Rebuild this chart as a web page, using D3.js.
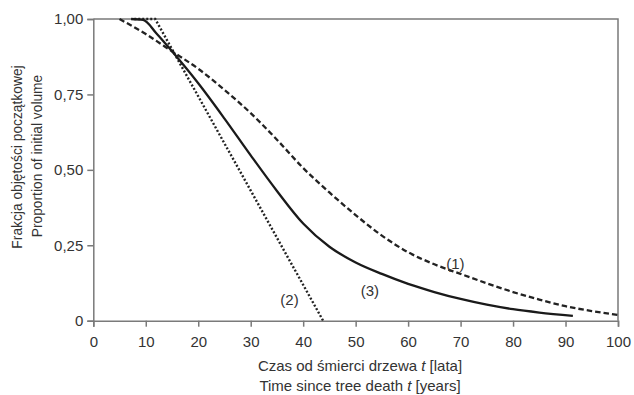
<!DOCTYPE html>
<html>
<head>
<meta charset="utf-8">
<script src="https://cdn.jsdelivr.net/npm/d3@7"></script>
<style>
  body { margin: 0; background: #fff; }
  svg { font-family: "Liberation Sans", Arial, sans-serif; }
</style>
</head>
<body>
<svg id="chart" width="634" height="395"></svg>
<script>
// values
const curve1 = [ // dashed (1)
  [5, 1.0], [10, 0.95], [15, 0.893], [20, 0.835], [25, 0.765], [30, 0.688],
  [35, 0.6], [40, 0.506], [45, 0.425], [50, 0.35], [55, 0.282], [60, 0.227],
  [65, 0.187], [70, 0.155], [75, 0.124], [80, 0.095], [85, 0.07], [90, 0.048],
  [95, 0.032], [100, 0.019]
]
const curve2 = [ // dotted (2)
  [7.8, 1.0], [11.8, 1.0], [43.8, 0]
]
const curve3 = [ // solid (3)
  [7.2, 1.0], [9.5, 0.997], [12, 0.953], [15, 0.893], [20, 0.787], [25, 0.67],
  [30, 0.548], [35, 0.43], [40, 0.322], [45, 0.245], [50, 0.193], [55, 0.155],
  [60, 0.122], [65, 0.095], [70, 0.072], [75, 0.053], [80, 0.038], [85, 0.027],
  [91.4, 0.016]
]
const xTicks = [0, 10, 20, 30, 40, 50, 60, 70, 80, 90, 100]
const yTicks = [0, 0.25, 0.5, 0.75, 1]
const yTickLabels = ['0', '0,25', '0,50', '0,75', '1,00']
const curveLabels = [
  { text: '(1)', t: 69, v: 0.188 },
  { text: '(2)', t: 37.4, v: 0.071 },
  { text: '(3)', t: 52.7, v: 0.099 }
]

const svg = d3.select('#chart')
const plotLeft = 93.3, plotRight = 618, plotTop = 19, plotBottom = 320.7
const axisColor = '#7a7a7a'
const textColor = '#333'
const fontSize = 15
const x = d3.scaleLinear().domain([0, 100]).range([plotLeft, plotRight])
const y = d3.scaleLinear().domain([0, 1]).range([plotBottom, plotTop])

// frame top and right
svg.append('path')
  .attr('d', `M${plotLeft},${plotTop} H${plotRight} V${plotBottom}`)
  .attr('fill', 'none')
  .attr('stroke', axisColor)
  .attr('stroke-width', 1.5)

const xAxis = svg.append('g')
  .attr('transform', `translate(0,${plotBottom})`)
  .call(d3.axisBottom(x).tickValues(xTicks).tickSize(6).tickPadding(5).tickFormat(d3.format('d')))
const yAxis = svg.append('g')
  .attr('transform', `translate(${plotLeft},0)`)
  .call(d3.axisLeft(y).tickValues(yTicks).tickSize(6).tickPadding(4)
    .tickFormat((d, i) => yTickLabels[i]))

for (const ax of [xAxis, yAxis]) {
  ax.select('.domain').attr('stroke', axisColor).attr('stroke-width', 1.5)
  ax.selectAll('.tick line').attr('stroke', axisColor).attr('stroke-width', 1.5)
  ax.selectAll('.tick text').attr('fill', textColor).attr('font-size', fontSize)
    .attr('font-family', '"Liberation Sans", Arial, sans-serif')
}
xAxis.selectAll('.tick text').attr('dy', '1em')

const line = d3.line().x(d => x(d[0])).y(d => y(d[1]))

svg.append('path')
  .attr('d', line.curve(d3.curveMonotoneX)(curve1))
  .attr('fill', 'none').attr('stroke', '#222').attr('stroke-width', 2.3)
  .attr('stroke-dasharray', '5.5,3')

svg.append('path')
  .attr('d', line.curve(d3.curveLinear)(curve2))
  .attr('fill', 'none').attr('stroke', '#222').attr('stroke-width', 2.4)
  .attr('stroke-dasharray', '2,2')

svg.append('path')
  .attr('d', line.curve(d3.curveMonotoneX)(curve3))
  .attr('fill', 'none').attr('stroke', '#1a1a1a').attr('stroke-width', 2.3)

svg.selectAll('.clabel')
  .data(curveLabels)
  .enter()
  .append('text')
  .attr('x', d => x(d.t))
  .attr('y', d => y(d.v))
  .attr('text-anchor', 'middle')
  .attr('dy', '0.35em')
  .attr('font-size', fontSize)
  .attr('fill', textColor)
  .text(d => d.text)

// axis titles
const xTitle1 = svg.append('text')
  .attr('x', 360).attr('y', 371)
  .attr('text-anchor', 'middle').attr('font-size', fontSize).attr('fill', textColor)
xTitle1.append('tspan').text('Czas od śmierci drzewa ')
xTitle1.append('tspan').attr('font-style', 'italic').text('t')
xTitle1.append('tspan').text(' [lata]')

const xTitle2 = svg.append('text')
  .attr('x', 360).attr('y', 391)
  .attr('text-anchor', 'middle').attr('font-size', fontSize).attr('fill', textColor)
xTitle2.append('tspan').text('Time since tree death ')
xTitle2.append('tspan').attr('font-style', 'italic').text('t')
xTitle2.append('tspan').text(' [years]')

svg.append('text')
  .attr('transform', 'translate(21.5,157) rotate(-90)')
  .attr('text-anchor', 'middle').attr('font-size', 13.8).attr('fill', textColor)
  .text('Frakcja objętości początkowej')
svg.append('text')
  .attr('transform', 'translate(42,156) rotate(-90)')
  .attr('text-anchor', 'middle').attr('font-size', 13.8).attr('fill', textColor)
  .text('Proportion of initial volume')
</script>
</body>
</html>
